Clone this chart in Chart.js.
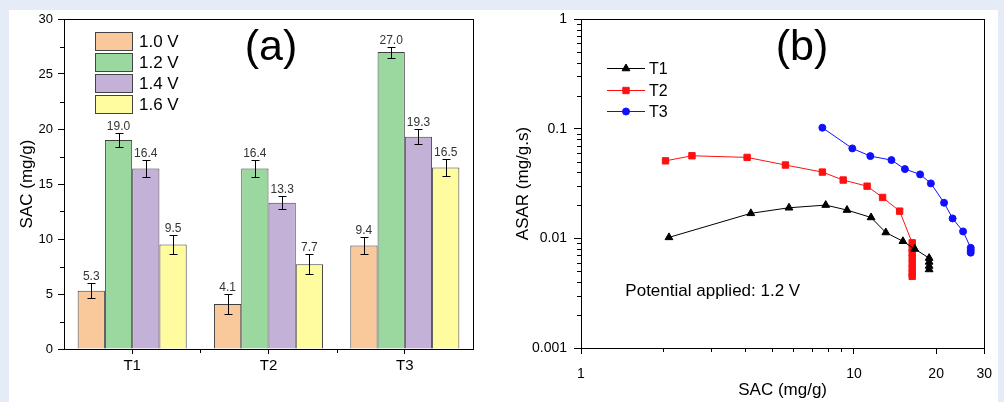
<!DOCTYPE html>
<html>
<head>
<meta charset="utf-8">
<script src="https://cdn.jsdelivr.net/npm/chart.js@4.4.1/dist/chart.umd.min.js"></script>
<style>
  html, body { margin: 0; padding: 0; }
  body { width: 1004px; height: 402px; background: #e6ecf7; position: relative; overflow: hidden; }
  .card { position: absolute; left: 9px; top: 10px; width: 989px; height: 392px; background: #fff; }
  .box { position: absolute; top: 0; height: 402px; }
  #boxA { left: 0; width: 500px; }
  #boxB { left: 500px; width: 504px; }
</style>
</head>
<body>
<div class="card"></div>
<div class="box" id="boxA"><canvas id="barChart"></canvas></div>
<div class="box" id="boxB"><canvas id="logChart"></canvas></div>
<script>
// panel (a): SAC per electrode and voltage
const groups = ['T1', 'T2', 'T3'];
const voltages = ['1.0 V', '1.2 V', '1.4 V', '1.6 V'];
const sac10 = [5.3, 4.1, 9.4];
const sac12 = [19.0, 16.4, 27.0];
const sac14 = [16.4, 13.3, 19.3];
const sac16 = [9.5, 7.7, 16.5];
const err10 = [0.7, 0.9, 0.8];
const err12 = [0.6, 0.8, 0.5];
const err14 = [0.8, 0.6, 0.7];
const err16 = [0.9, 0.9, 0.8];
const barColors = ['#f9c89b', '#9bd8a0', '#c3b1d8', '#fffca0'];
const yTicksA = [0, 5, 10, 15, 20, 25, 30];
const yMinorA = [2.5, 7.5, 12.5, 17.5, 22.5, 27.5];

// panel (b): ASAR vs SAC (Ragone-like), 1.2 V
const t1Sac = [2.10, 4.19, 5.78, 7.88, 9.43, 11.55, 13.08, 15.11, 16.70, 18.85, 18.85, 18.85, 18.85];
const t1Asar = [0.0102, 0.0169, 0.0190, 0.0201, 0.0181, 0.0155, 0.0113, 0.0094, 0.0080, 0.0066, 0.0061, 0.0056, 0.0052];
const t2Sac = [2.04, 2.55, 4.06, 5.61, 7.66, 9.13, 11.17, 12.73, 14.70, 16.34, 16.34, 16.34, 16.34, 16.34, 16.34, 16.34, 16.34];
const t2Asar = [0.0509, 0.0566, 0.0547, 0.0466, 0.0402, 0.0340, 0.0299, 0.0236, 0.0177, 0.0091, 0.0082, 0.0074, 0.0066, 0.0059, 0.0053, 0.0048, 0.0045];
const t3Sac = [7.66, 9.86, 11.48, 13.72, 15.37, 17.47, 19.13, 21.38, 22.98, 25.10, 26.77, 26.77, 26.77];
const t3Asar = [0.102, 0.0661, 0.0562, 0.0517, 0.0428, 0.0383, 0.0317, 0.0211, 0.0152, 0.01156, 0.0082, 0.0078, 0.0074];
const xTicksB = [1, 10, 20, 30];
const yTicksB = [0.001, 0.01, 0.1, 1];
const xMinorB = [2, 3, 4, 5, 6, 7, 8, 9];
const yMinorB = [0.002, 0.003, 0.004, 0.005, 0.006, 0.007, 0.008, 0.009,
                 0.02, 0.03, 0.04, 0.05, 0.06, 0.07, 0.08, 0.09,
                 0.2, 0.3, 0.4, 0.5, 0.6, 0.7, 0.8, 0.9];

Chart.defaults.font.family = "'Liberation Sans', Arial, sans-serif";
Chart.defaults.color = '#000';
Chart.defaults.animation = false;

const pts = (xs, ys) => xs.map((x, i) => ({ x: x, y: ys[i] }));

// frame around the plot area (top/right lines)
const frame = {
  id: 'frame',
  afterDraw(chart) {
    const { ctx, chartArea: a } = chart;
    ctx.save();
    ctx.strokeStyle = '#000';
    ctx.lineWidth = 1;
    ctx.strokeRect(Math.round(a.left) + 0.5, Math.round(a.top) + 0.5, Math.round(a.right - a.left), Math.round(a.bottom - a.top));
    ctx.restore();
  }
};

// short outward ticks between the labelled ones
function minorTicks(xVals, yVals, len) {
  return {
    id: 'minorTicks',
    afterDraw(chart) {
      const { ctx } = chart;
      const sx = chart.scales.x, sy = chart.scales.y;
      ctx.save();
      ctx.strokeStyle = '#000';
      ctx.lineWidth = 1;
      ctx.beginPath();
      xVals.forEach(v => {
        const px = Math.round(sx.getPixelForValue(v)) + 0.5;
        ctx.moveTo(px, sx.top);
        ctx.lineTo(px, sx.top + len);
      });
      yVals.forEach(v => {
        const py = Math.round(sy.getPixelForValue(v)) + 0.5;
        ctx.moveTo(sy.right, py);
        ctx.lineTo(sy.right - len, py);
      });
      ctx.stroke();
      ctx.restore();
    }
  };
}

function texts(items) {
  return {
    id: 'texts',
    afterDraw(chart) {
      const { ctx, chartArea: a } = chart;
      ctx.save();
      ctx.fillStyle = '#000';
      ctx.textBaseline = 'middle';
      items.forEach(t => {
        ctx.font = t.size + "px 'Liberation Sans', Arial, sans-serif";
        ctx.textAlign = t.align || 'center';
        ctx.fillText(t.text, a.left + t.fx * (a.right - a.left), a.top + t.fy * (a.bottom - a.top));
      });
      ctx.restore();
    }
  };
}

// error bars + value labels for the bar chart
const errorBars = {
  id: 'errorBars',
  afterDatasetsDraw(chart) {
    const { ctx } = chart;
    const sy = chart.scales.y;
    ctx.save();
    ctx.strokeStyle = '#000';
    ctx.lineWidth = 1;
    ctx.fillStyle = '#333';
    ctx.font = "12px 'Liberation Sans', Arial, sans-serif";
    ctx.textAlign = 'center';
    ctx.textBaseline = 'bottom';
    chart.data.datasets.forEach((ds, i) => {
      chart.getDatasetMeta(i).data.forEach((bar, j) => {
        const v = ds.data[j], e = ds.errors[j];
        const x = Math.round(bar.x) + 0.5;
        const yt = Math.round(sy.getPixelForValue(v + e)) + 0.5;
        const yb = Math.round(sy.getPixelForValue(v - e)) + 0.5;
        ctx.beginPath();
        ctx.moveTo(x, yt); ctx.lineTo(x, yb);
        ctx.moveTo(x - 4, yt); ctx.lineTo(x + 4, yt);
        ctx.moveTo(x - 4, yb); ctx.lineTo(x + 4, yb);
        ctx.stroke();
        ctx.fillText(v.toFixed(1), bar.x, yt - 1);
      });
    });
    ctx.restore();
  }
};

const boxLegend = {
  id: 'boxLegend',
  afterDraw(chart, args, opts) {
    const { ctx, chartArea: a } = chart;
    ctx.save();
    ctx.font = "17px 'Liberation Sans', Arial, sans-serif";
    ctx.textBaseline = 'middle';
    ctx.textAlign = 'left';
    chart.data.datasets.forEach((ds, i) => {
      const x = a.left + opts.dx, y = a.top + opts.dy + i * opts.pitch;
      ctx.fillStyle = ds.backgroundColor;
      ctx.fillRect(x, y, opts.w, opts.h);
      ctx.strokeStyle = '#444';
      ctx.lineWidth = 1;
      ctx.strokeRect(Math.round(x) + 0.5, Math.round(y) + 0.5, opts.w, opts.h);
      ctx.fillStyle = '#000';
      ctx.fillText(ds.label, x + opts.w + 7, y + opts.h / 2 + 1);
    });
    ctx.restore();
  }
};

const lineLegend = {
  id: 'lineLegend',
  afterDraw(chart, args, opts) {
    const { ctx, chartArea: a } = chart;
    ctx.save();
    ctx.font = "16px 'Liberation Sans', Arial, sans-serif";
    ctx.textBaseline = 'middle';
    ctx.textAlign = 'left';
    chart.data.datasets.forEach((ds, i) => {
      const x = a.left + opts.dx, y = Math.round(a.top + opts.dy + i * opts.pitch) + 0.5;
      ctx.strokeStyle = ds.borderColor;
      ctx.fillStyle = ds.backgroundColor;
      ctx.lineWidth = 1;
      ctx.beginPath();
      ctx.moveTo(x, y); ctx.lineTo(x + opts.w, y);
      ctx.stroke();
      Chart.helpers.drawPoint(ctx, { pointStyle: ds.pointStyle, radius: ds.pointRadius, rotation: 0, borderWidth: 1 }, x + opts.w / 2, y);
      ctx.fillStyle = '#000';
      ctx.fillText(ds.label, x + opts.w + 4, y + 1);
    });
    ctx.restore();
  }
};

const barData = [sac10, sac12, sac14, sac16];
const errData = [err10, err12, err14, err16];

new Chart(document.getElementById('barChart'), {
  type: 'bar',
  data: {
    labels: groups,
    datasets: voltages.map((v, i) => ({
      label: v,
      data: barData[i],
      errors: errData[i],
      backgroundColor: barColors[i],
      borderColor: '#404040',
      borderWidth: 1,
      categoryPercentage: 0.8,
      barPercentage: 1.0
    }))
  },
  options: {
    responsive: true,
    maintainAspectRatio: false,
    layout: { padding: { left: 0, top: 19, right: 27, bottom: 0 } },
    plugins: {
      legend: { display: false },
      tooltip: { enabled: false },
      boxLegend: { dx: 31, dy: 13, pitch: 21, w: 37, h: 18 }
    },
    scales: {
      x: {
        grid: { offset: false, drawOnChartArea: false, tickLength: 5, color: '#000' },
        border: { color: '#000' },
        ticks: { font: { size: 15 }, padding: 3 },
        afterFit: s => { s.height = 53; }
      },
      y: {
        min: 0, max: 30,
        afterBuildTicks: s => { s.ticks = yTicksA.map(v => ({ value: v })); },
        ticks: { font: { size: 13 }, padding: 5 },
        grid: { drawOnChartArea: false, tickLength: 6, color: '#000' },
        border: { color: '#000' },
        title: { display: true, text: 'SAC (mg/g)', font: { size: 17 }, padding: { top: 17, bottom: 0 } },
        afterFit: s => { s.width = 64; }
      }
    }
  },
  plugins: [
    errorBars, boxLegend,
    minorTicks([0.5, 1.5], yMinorA, 4),
    texts([{ text: '(a)', fx: 0.506, fy: 0.088, size: 43 }]),
    frame
  ]
});

new Chart(document.getElementById('logChart'), {
  type: 'scatter',
  data: {
    datasets: [
      { label: 'T1', data: pts(t1Sac, t1Asar), borderColor: '#000', backgroundColor: '#000', pointStyle: 'triangle', pointRadius: 4.5 },
      { label: 'T2', data: pts(t2Sac, t2Asar), borderColor: '#ff1010', backgroundColor: '#ff1010', pointStyle: 'rect', pointRadius: 4.5 },
      { label: 'T3', data: pts(t3Sac, t3Asar), borderColor: '#1010ff', backgroundColor: '#1010ff', pointStyle: 'circle', pointRadius: 3.5 }
    ].map(d => Object.assign(d, { showLine: true, borderWidth: 1, pointBorderWidth: 1, tension: 0 }))
  },
  options: {
    responsive: true,
    maintainAspectRatio: false,
    layout: { padding: { left: 0, top: 19, right: 15, bottom: 0 } },
    plugins: {
      legend: { display: false },
      tooltip: { enabled: false },
      lineLegend: { dx: 26, dy: 49, pitch: 21.5, w: 38 }
    },
    scales: {
      x: {
        type: 'logarithmic', min: 1, max: 30,
        afterBuildTicks: s => { s.ticks = xTicksB.map(v => ({ value: v })); },
        ticks: { font: { size: 14 }, padding: 12, autoSkip: false, maxRotation: 0, callback: v => String(v) },
        grid: { drawOnChartArea: false, tickLength: 6, color: '#000' },
        border: { color: '#000' },
        title: { display: true, text: 'SAC (mg/g)', font: { size: 17 }, padding: { top: 0, bottom: 1 } },
        afterFit: s => { s.height = 54; }
      },
      y: {
        type: 'logarithmic', min: 0.001, max: 1,
        afterBuildTicks: s => { s.ticks = yTicksB.map(v => ({ value: v })); },
        ticks: { font: { size: 14 }, padding: 7, autoSkip: false, callback: v => String(v) },
        grid: { drawOnChartArea: false, tickLength: 7, color: '#000' },
        border: { color: '#000' },
        title: { display: true, text: 'ASAR (mg/g.s)', font: { size: 17 }, padding: { top: 13, bottom: 0 } },
        afterFit: s => { s.width = 81; }
      }
    }
  },
  plugins: [
    lineLegend,
    minorTicks(xMinorB, yMinorB, 4),
    texts([
      { text: '(b)', fx: 0.548, fy: 0.09, size: 43 },
      { text: 'Potential applied: 1.2 V', fx: 0.110, fy: 0.829, size: 17, align: 'left' }
    ]),
    frame
  ]
});
</script>
</body>
</html>
